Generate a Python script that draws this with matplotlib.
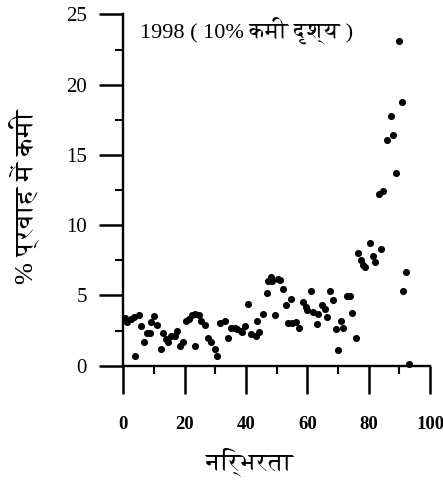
import numpy as np
import matplotlib
matplotlib.use('Agg')
from matplotlib import pyplot as plt
from matplotlib import font_manager
from matplotlib.ft2font import FT2Font


def find_deva_font():
    # look for installed fonts that have Devanagari glyphs, prefer a non-mono one
    found = []
    for f in font_manager.fontManager.ttflist:
        try:
            cmap = FT2Font(f.fname).get_charmap()
        except Exception:
            continue
        if 0x0915 in cmap and 0x093F in cmap:
            found.append(f.name)
    if not found:
        return None
    good = [n for n in found if 'Mono' not in n]
    serif = [n for n in good if 'Serif' in n]
    if serif:
        return serif[0]
    if good:
        return good[0]
    return found[0]


# dependence (%) vs. % reduction in flow, 1998 (10% reduction scenario)
dep_x = [0.7, 1.3, 2.4, 3.5, 3.9, 5.0, 5.7, 6.75, 7.8, 8.8, 9.1, 10.2, 11.1,
         12.2, 12.9, 14.0, 14.6, 15.7, 16.8, 17.6, 18.4, 19.5, 20.5, 21.6,
         22.4, 23.3, 23.5, 24.6, 25.4, 26.8, 27.6, 28.7, 29.8, 30.7, 31.4,
         33.1, 34.1, 35.2, 36.3, 37.0, 38.4, 38.8, 39.7, 40.8, 41.8, 43.2,
         43.6, 44.2, 45.6, 46.8, 47.3, 48.2, 48.6, 49.3, 50.6, 51.2, 52.2,
         53.0, 53.8, 54.7, 55.1, 56.2, 57.3, 58.7, 59.5, 59.8, 61.2, 62.0,
         63.1, 63.6, 64.9, 65.6, 66.5, 67.4, 68.5, 69.2, 70.1, 71.0, 71.7,
         72.8, 73.9, 74.7, 75.8, 76.6, 77.5, 78.2, 78.9, 80.4, 81.4, 81.9,
         83.2, 84.1, 84.8, 86.1, 87.2, 87.8, 88.9, 90.0, 90.8, 91.3, 92.2,
         93.0]
flow_cut = [3.4, 3.1, 3.3, 3.45, 0.7, 3.6, 2.8, 1.7, 2.3, 2.3, 3.1, 3.5, 2.9,
            1.2, 2.3, 1.9, 1.7, 2.1, 2.1, 2.5, 1.4, 1.7, 3.15, 3.3,
            3.6, 1.4, 3.7, 3.6, 3.2, 2.9, 2.0, 1.7, 1.2, 0.7, 3.0,
            3.15, 2.0, 2.65, 2.65, 2.6, 2.5, 2.4, 2.85, 4.4, 2.27, 2.08,
            3.17, 2.4, 3.7, 5.2, 6.05, 6.3, 6.05, 3.57, 6.2, 6.1, 5.46,
            4.3, 3.03, 4.75, 3.03, 3.1, 2.7, 4.5, 4.15, 3.97, 5.3, 3.8,
            2.93, 3.7, 4.35, 4.05, 3.45, 5.3, 4.68, 2.6, 1.13, 3.17, 2.7,
            4.99, 4.99, 3.73, 1.99, 8.05, 7.55, 7.2, 7.0, 8.7, 7.8, 7.35,
            12.2, 8.3, 12.4, 16.05, 17.75, 16.4, 13.7, 23.1, 18.8, 5.3, 6.7,
            0.1]

x_ticks = [0, 20, 40, 60, 80, 100]
x_minor = [10, 30, 50, 70, 90]
y_ticks = [0, 5, 10, 15, 20, 25]
y_minor = [2.5, 7.5, 12.5, 17.5, 22.5]

title_txt = '1998 ( 10% कमी दृश्य )'
x_lab = 'निर्भरता'
y_lab = '% प्रवाह में कमी'

deva = find_deva_font()
fam = ['Liberation Serif']
if deva:
    fam.append(deva)
fam.append('DejaVu Sans')
plt.rcParams['font.family'] = fam

fig = plt.figure(figsize=(4.43, 4.83), dpi=100)
ax = fig.add_axes([0.278, 0.243, 0.693, 0.727])

ax.scatter(dep_x, flow_cut, s=26, c='black', linewidths=0, clip_on=False, zorder=3)

ax.set_xlim(0, 100)
ax.set_ylim(0, 25)
ax.spines['top'].set_visible(False)
ax.spines['right'].set_visible(False)
for side in ['left', 'bottom']:
    ax.spines[side].set_linewidth(1.7)
    ax.spines[side].set_color('black')

# tick marks drawn as plain lines (long at labelled values, short in between)
xt = ax.get_xaxis_transform()
yt = ax.get_yaxis_transform()
for v in x_ticks:
    ax.plot([v, v], [0, -0.08], transform=xt, color='black', lw=1.8,
            clip_on=False, solid_capstyle='butt')
for v in x_minor:
    ax.plot([v, v], [0, -0.023], transform=xt, color='black', lw=1.5,
            clip_on=False, solid_capstyle='butt')
for v in y_ticks:
    ax.plot([0, -0.078], [v, v], transform=yt, color='black', lw=1.8,
            clip_on=False, solid_capstyle='butt')
for v in y_minor:
    ax.plot([0, -0.026], [v, v], transform=yt, color='black', lw=1.5,
            clip_on=False, solid_capstyle='butt')

ax.set_xticks(x_ticks)
ax.set_yticks(y_ticks)
ax.tick_params(axis='x', length=0, pad=36)
ax.tick_params(axis='y', length=0, pad=26)

for lb in ax.get_xticklabels():
    lb.set_fontsize(13.5)
    lb.set_fontweight('bold')
for lb in ax.get_yticklabels():
    lb.set_fontsize(15)

ax.text(5.4, 23.9, title_txt, fontsize=16, ha='left', va='center')
fig.text(250 / 443, 1 - 462 / 483, x_lab, fontsize=18, ha='center', va='center')
fig.text(25 / 443, 1 - 197 / 483, y_lab, fontsize=19, rotation=90,
         ha='center', va='center')

fig.savefig('out.png', dpi=100)
